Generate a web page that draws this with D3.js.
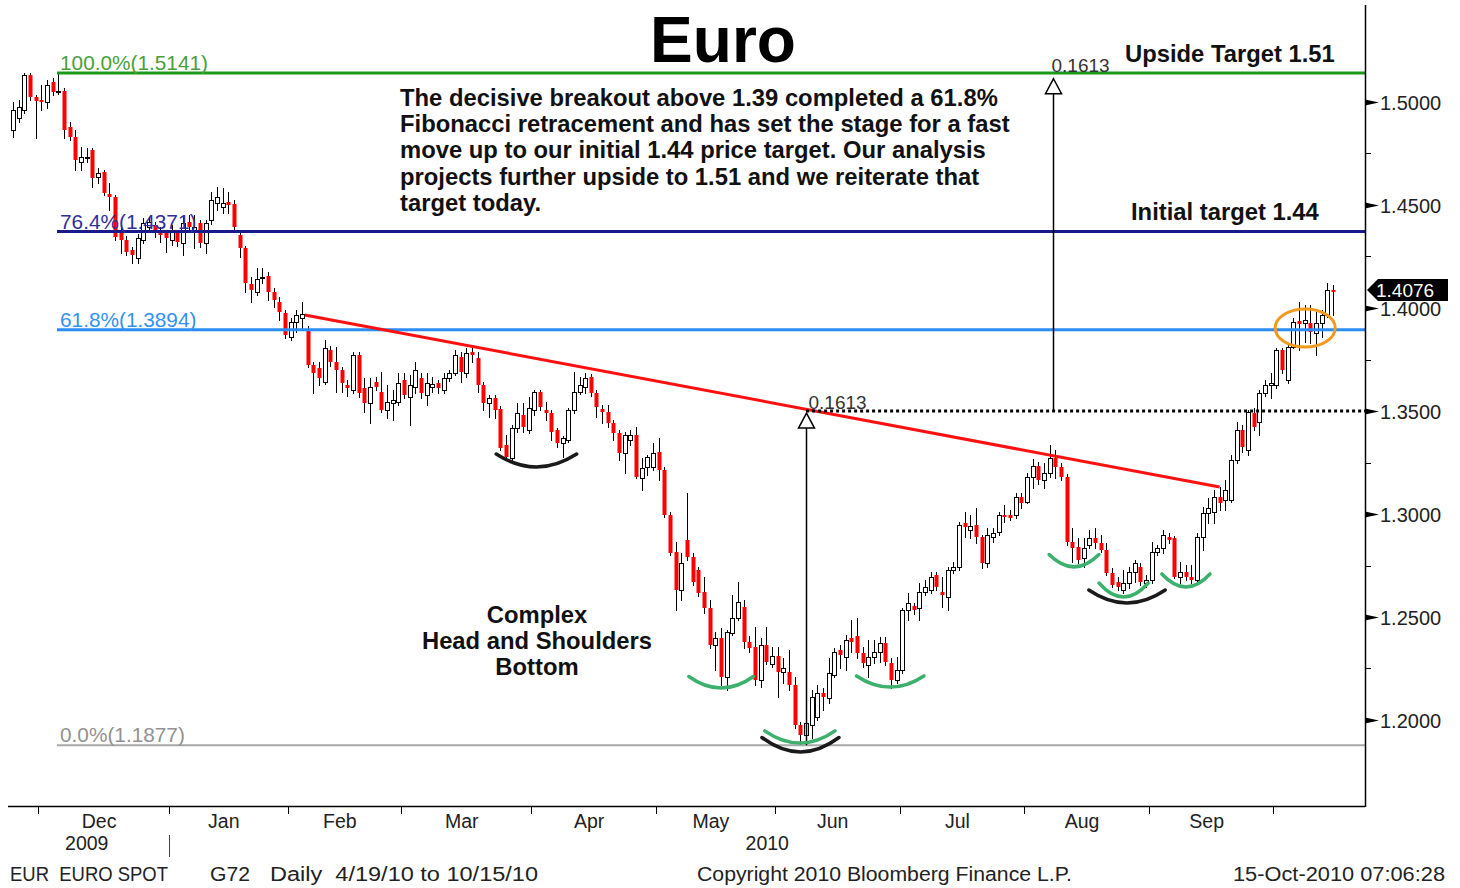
<!DOCTYPE html>
<html>
<head>
<meta charset="utf-8">
<script src="https://cdn.jsdelivr.net/npm/d3@7"></script>
<style>
  body { margin: 0; background: #fff; }
  svg { display: block; }
  text { font-family: "Liberation Sans", Arial, sans-serif; }
</style>
</head>
<body>
<svg id="chart" width="1460" height="888"></svg>
<script>
// EUR/USD daily, 24 Nov 2009 .. 15 Oct 2010
var opens = [1.4864,1.4922,1.4961,1.5131,1.5024,1.5010,1.5000,1.5097,1.5049,1.5053,
  1.4879,1.4830,1.4709,1.4733,1.4767,1.4636,1.4660,1.4553,1.4539,1.4379,
  1.4330,1.4282,1.4243,1.4330,1.4393,1.4403,1.4369,1.4364,1.4330,1.4364,
  1.4316,1.4417,1.4379,1.4413,1.4316,1.4427,1.4510,1.4490,1.4515,1.4505,
  1.4354,1.4291,1.4116,1.4078,1.4146,1.4155,1.4078,1.4029,1.3976,1.3859,
  1.3932,1.3951,1.3893,1.3723,1.3709,1.3641,1.3796,1.3738,1.3699,1.3626,
  1.3602,1.3772,1.3612,1.3539,1.3641,1.3592,1.3505,1.3539,1.3544,1.3650,
  1.3568,1.3617,1.3660,1.3578,1.3617,1.3636,1.3602,1.3660,1.3684,1.3762,
  1.3684,1.3786,1.3757,1.3626,1.3539,1.3563,1.3509,1.3335,1.3272,1.3417,
  1.3480,1.3408,1.3505,1.3592,1.3505,1.3490,1.3408,1.3345,1.3359,1.3505,
  1.3592,1.3617,1.3665,1.3587,1.3509,1.3495,1.3442,1.3393,1.3296,1.3359,
  1.3383,1.3175,1.3228,1.3228,1.3301,1.3214,1.2995,1.2815,1.2631,1.2874,
  1.2791,1.2728,1.2621,1.2544,1.2364,1.2398,1.2209,1.2422,1.2495,1.2549,
  1.2379,1.2354,1.2194,1.2364,1.2272,1.2311,1.2233,1.2233,1.2170,1.1976,
  1.1927,1.1976,1.2015,1.2131,1.2107,1.2218,1.2340,1.2306,1.2398,1.2408,
  1.2325,1.2267,1.2306,1.2330,1.2374,1.2277,1.2194,1.2243,1.2534,1.2553,
  1.2544,1.2621,1.2631,1.2704,1.2621,1.2597,1.2728,1.2743,1.2956,1.2922,
  1.2947,1.2888,1.2762,1.2888,1.2913,1.2995,1.2995,1.2995,1.3083,1.3058,
  1.3180,1.3233,1.3165,1.3199,1.3272,1.3228,1.3180,1.2864,1.2840,1.2786,
  1.2850,1.2884,1.2859,1.2825,1.2714,1.2670,1.2631,1.2665,1.2718,1.2743,
  1.2665,1.2680,1.2815,1.2835,1.2888,1.2884,1.2694,1.2718,1.2694,1.2680,
  1.2888,1.3005,1.3010,1.3083,1.3068,1.3068,1.3262,1.3408,1.3311,1.3490,
  1.3447,1.3587,1.3626,1.3626,1.3796,1.3650,1.3811,1.3937,1.3927,1.3927,
  1.3879,1.3927,1.3966,1.4087];
var highs = [1.5000,1.5010,1.5141,1.5141,1.5034,1.5083,1.5107,1.5117,1.5141,1.5068,
  1.4903,1.4864,1.4782,1.4777,1.4777,1.4680,1.4670,1.4607,1.4549,1.4398,
  1.4350,1.4296,1.4359,1.4437,1.4442,1.4417,1.4393,1.4379,1.4403,1.4379,
  1.4442,1.4451,1.4451,1.4427,1.4427,1.4563,1.4587,1.4582,1.4563,1.4524,
  1.4379,1.4301,1.4150,1.4194,1.4194,1.4175,1.4097,1.4053,1.3990,1.3951,
  1.3990,1.4029,1.3913,1.3738,1.3738,1.3845,1.3816,1.3811,1.3714,1.3650,
  1.3786,1.3786,1.3660,1.3660,1.3665,1.3689,1.3626,1.3602,1.3684,1.3684,
  1.3675,1.3738,1.3684,1.3684,1.3665,1.3650,1.3684,1.3699,1.3796,1.3786,
  1.3806,1.3820,1.3786,1.3641,1.3578,1.3578,1.3524,1.3383,1.3432,1.3539,
  1.3539,1.3568,1.3602,1.3602,1.3544,1.3505,1.3417,1.3379,1.3515,1.3689,
  1.3665,1.3684,1.3679,1.3602,1.3529,1.3529,1.3456,1.3408,1.3398,1.3408,
  1.3422,1.3272,1.3286,1.3345,1.3369,1.3228,1.3010,1.2864,1.2810,1.3102,
  1.2810,1.2743,1.2694,1.2583,1.2427,1.2447,1.2437,1.2607,1.2670,1.2583,
  1.2408,1.2451,1.2398,1.2451,1.2354,1.2354,1.2301,1.2340,1.2209,1.1990,
  1.2073,1.2146,1.2170,1.2155,1.2301,1.2350,1.2364,1.2413,1.2485,1.2495,
  1.2354,1.2388,1.2388,1.2403,1.2403,1.2301,1.2306,1.2544,1.2617,1.2568,
  1.2665,1.2680,1.2718,1.2718,1.2694,1.2743,1.2767,1.2961,1.3010,1.2995,
  1.3029,1.2898,1.2932,1.2932,1.3010,1.3044,1.3020,1.3102,1.3102,1.3199,
  1.3267,1.3252,1.3248,1.3335,1.3311,1.3248,1.3194,1.2932,1.2883,1.2883,
  1.2922,1.2932,1.2898,1.2859,1.2738,1.2694,1.2728,1.2743,1.2777,1.2762,
  1.2704,1.2864,1.2850,1.2922,1.2908,1.2893,1.2767,1.2752,1.2752,1.2908,
  1.3034,1.3078,1.3117,1.3131,1.3165,1.3286,1.3447,1.3432,1.3505,1.3515,
  1.3602,1.3650,1.3684,1.3806,1.3806,1.3820,1.3951,1.4029,1.4015,1.4015,
  1.3980,1.3990,1.4121,1.4112];
var lows = [1.4830,1.4903,1.4947,1.5010,1.4825,1.4961,1.4971,1.5034,1.5039,1.4825,
  1.4816,1.4670,1.4670,1.4709,1.4587,1.4607,1.4549,1.4476,1.4330,1.4267,
  1.4257,1.4218,1.4218,1.4316,1.4369,1.4345,1.4320,1.4272,1.4306,1.4301,
  1.4257,1.4369,1.4291,1.4296,1.4267,1.4408,1.4476,1.4461,1.4461,1.4379,
  1.4248,1.4078,1.4029,1.4063,1.4121,1.4039,1.4005,1.3942,1.3854,1.3845,
  1.3883,1.3903,1.3714,1.3587,1.3626,1.3631,1.3718,1.3592,1.3592,1.3573,
  1.3587,1.3568,1.3495,1.3442,1.3602,1.3495,1.3466,1.3456,1.3529,1.3563,
  1.3432,1.3587,1.3563,1.3529,1.3592,1.3587,1.3587,1.3646,1.3675,1.3641,
  1.3665,1.3738,1.3592,1.3505,1.3471,1.3466,1.3311,1.3267,1.3262,1.3398,
  1.3398,1.3393,1.3480,1.3505,1.3456,1.3359,1.3325,1.3277,1.3350,1.3490,
  1.3582,1.3587,1.3573,1.3471,1.3442,1.3422,1.3359,1.3262,1.3199,1.3335,
  1.3175,1.3117,1.3189,1.3214,1.3165,1.2985,1.2801,1.2534,1.2583,1.2777,
  1.2655,1.2602,1.2519,1.2350,1.2243,1.2170,1.2146,1.2413,1.2485,1.2350,
  1.2330,1.2170,1.2160,1.2272,1.2257,1.2112,1.2180,1.2146,1.1961,1.1877,
  1.1888,1.1913,1.2000,1.2049,1.2083,1.2209,1.2252,1.2243,1.2330,1.2301,
  1.2257,1.2209,1.2277,1.2282,1.2267,1.2155,1.2180,1.2228,1.2485,1.2515,
  1.2485,1.2607,1.2617,1.2631,1.2549,1.2534,1.2714,1.2728,1.2888,1.2883,
  1.2859,1.2738,1.2743,1.2864,1.2898,1.2961,1.2971,1.2981,1.3029,1.3053,
  1.3126,1.3146,1.3126,1.3180,1.3175,1.3165,1.2850,1.2767,1.2762,1.2743,
  1.2835,1.2835,1.2816,1.2704,1.2646,1.2631,1.2617,1.2641,1.2670,1.2655,
  1.2646,1.2665,1.2801,1.2811,1.2859,1.2689,1.2665,1.2680,1.2665,1.2665,
  1.2825,1.2956,1.2956,1.3020,1.3020,1.3058,1.3248,1.3301,1.3286,1.3408,
  1.3383,1.3573,1.3563,1.3612,1.3684,1.3636,1.3806,1.3796,1.3835,1.3830,
  1.3772,1.3859,1.3956,1.3966];
var closes = [1.4961,1.4976,1.5131,1.5024,1.5005,1.5000,1.5083,1.5049,1.5053,1.4864,
  1.4830,1.4718,1.4733,1.4735,1.4631,1.4655,1.4558,1.4539,1.4345,1.4330,
  1.4272,1.4257,1.4340,1.4413,1.4417,1.4364,1.4354,1.4340,1.4369,1.4320,
  1.4413,1.4393,1.4393,1.4316,1.4413,1.4524,1.4539,1.4510,1.4500,1.4393,
  1.4291,1.4121,1.4087,1.4141,1.4150,1.4078,1.4039,1.3981,1.3869,1.3932,
  1.3966,1.3971,1.3723,1.3684,1.3660,1.3806,1.3738,1.3699,1.3636,1.3612,
  1.3772,1.3587,1.3539,1.3617,1.3617,1.3505,1.3544,1.3553,1.3636,1.3578,
  1.3626,1.3699,1.3587,1.3636,1.3631,1.3612,1.3660,1.3684,1.3772,1.3689,
  1.3782,1.3772,1.3626,1.3539,1.3563,1.3505,1.3320,1.3277,1.3417,1.3490,
  1.3422,1.3515,1.3592,1.3520,1.3490,1.3398,1.3345,1.3369,1.3505,1.3592,
  1.3626,1.3660,1.3587,1.3520,1.3495,1.3442,1.3393,1.3296,1.3383,1.3383,
  1.3180,1.3223,1.3277,1.3296,1.3214,1.2995,1.2811,1.2631,1.2762,1.2791,
  1.2670,1.2617,1.2544,1.2364,1.2398,1.2209,1.2427,1.2495,1.2573,1.2379,
  1.2350,1.2194,1.2364,1.2282,1.2311,1.2233,1.2252,1.2170,1.1976,1.1927,
  1.1985,1.2112,1.2131,1.2112,1.2228,1.2330,1.2316,1.2388,1.2379,1.2325,
  1.2277,1.2306,1.2330,1.2374,1.2282,1.2194,1.2243,1.2534,1.2568,1.2534,
  1.2621,1.2646,1.2694,1.2646,1.2607,1.2728,1.2743,1.2947,1.2937,1.2942,
  1.2888,1.2762,1.2898,1.2908,1.2995,1.2985,1.2981,1.3083,1.3053,1.3180,
  1.3233,1.3165,1.3199,1.3272,1.3228,1.3180,1.2864,1.2835,1.2777,1.2835,
  1.2884,1.2859,1.2825,1.2714,1.2655,1.2646,1.2665,1.2718,1.2762,1.2670,
  1.2680,1.2815,1.2835,1.2898,1.2874,1.2694,1.2718,1.2694,1.2680,1.2888,
  1.3005,1.3029,1.3083,1.3053,1.3117,1.3262,1.3408,1.3325,1.3495,1.3422,
  1.3587,1.3626,1.3636,1.3796,1.3699,1.3811,1.3932,1.3922,1.3942,1.3883,
  1.3927,1.3966,1.4087,1.4076];

// fibonacci retracement levels
var fibLevels = [1.5141, 1.4371, 1.3894, 1.1877];
var fibNames = ["100.0%", "76.4%", "61.8%", "0.0%"];

var priceTicks = [1.20, 1.25, 1.30, 1.35, 1.40, 1.45, 1.50];
var minorTicks = [1.225, 1.275, 1.325, 1.375, 1.425, 1.475];

// neckline: [day index, price]
var neckline = [[51.5, 1.3966], [213, 1.3131]];

// measured move
var moveSize = 0.1613;
var headLow = 1.1877;
var breakLevel = 1.3500;
var moveDays = [140, 183.6];

// smile marks: [from day, to day, price at ends, price at bottom, kind]
var smiles = [
  [85.3, 99.5, 1.3291, 1.3228, "k"],
  [119.3, 130.7, 1.2211, 1.2155, "g"],
  [132.2, 145.8, 1.1915, 1.1845, "k"],
  [132.7, 145.1, 1.1947, 1.1888, "g"],
  [148.9, 160.8, 1.2214, 1.2160, "g"],
  [182.9, 191.7, 1.2803, 1.2743, "g"],
  [189.9, 203.4, 1.2631, 1.2568, "k"],
  [191.7, 200.4, 1.2665, 1.2597, "g"],
  [202.8, 211.3, 1.2709, 1.2646, "g"]
];
var circled = [228.1, 1.3903];

var noteLines = [
  "The decisive breakout above 1.39 completed a 61.8%",
  "Fibonacci retracement and has set the stage for a fast",
  "move up to our initial 1.44 price target. Our analysis",
  "projects further upside to 1.51 and we reiterate that",
  "target today."
];
var patternLines = ["Complex", "Head and Shoulders", "Bottom"];

var svg = d3.select("#chart");
var n = closes.length;
var plotLeft = 8, plotRight = 1365, plotTop = 5, plotBottom = 806;

var days = d3.timeDay.range(new Date(2009, 10, 24), new Date(2010, 9, 16))
  .filter(d => d.getDay() % 6 !== 0);

var x = d3.scaleLinear().domain([0, n - 1]).range([13, 13 + (n - 1) * 5.665]);
var y = d3.scaleLinear().domain([1.2, 1.5]).range([720, 102]);

// ---- candles ----
var gC = svg.append("g");
d3.range(n).forEach(i => {
	let cx = Math.round(x(i));
	let o = opens[i], c = closes[i];
	gC.append("line")
		.attr("x1", cx + 0.5).attr("x2", cx + 0.5)
		.attr("y1", Math.round(y(highs[i]))).attr("y2", Math.round(y(lows[i])) + 1)
		.attr("stroke", "#000").attr("stroke-width", 1);
	let top = Math.round(y(Math.max(o, c))), bot = Math.round(y(Math.min(o, c)));
	if (c >= o) {
		gC.append("rect")
			.attr("x", cx - 1.5).attr("y", top + 0.5)
			.attr("width", 4).attr("height", Math.max(bot - top, 1))
			.attr("fill", "#fff").attr("stroke", "#000").attr("stroke-width", 1);
	} else {
		gC.append("rect")
			.attr("x", cx - 1.5).attr("y", top)
			.attr("width", 4).attr("height", Math.max(bot - top, 2))
			.attr("fill", "#ff0000");
	}
});

// ---- fibonacci lines ----
var fibColor = ["#1c9a1c", "#1a1a8c", "#2a8cf4", "#a8a8a8"];
var fibText = ["#4aa03a", "#30309a", "#3392f0", "#929292"];
fibLevels.forEach((lv, k) => {
	svg.append("line")
		.attr("x1", 57).attr("x2", plotRight)
		.attr("y1", y(lv)).attr("y2", y(lv))
		.attr("stroke", fibColor[k]).attr("stroke-width", k == 3 ? 2 : 3);
	svg.append("text")
		.attr("x", 60).attr("y", y(lv) - 3)
		.attr("font-size", 20.8).attr("fill", fibText[k])
		.text(fibNames[k] + "(" + lv.toFixed(4) + ")");
});

// ---- neckline ----
svg.append("line")
	.attr("x1", x(neckline[0][0])).attr("y1", y(neckline[0][1]))
	.attr("x2", x(neckline[1][0])).attr("y2", y(neckline[1][1]))
	.attr("stroke", "#ff1010").attr("stroke-width", 3);

// ---- measured move ----
svg.append("line")
	.attr("x1", x(moveDays[0])).attr("x2", plotRight)
	.attr("y1", y(breakLevel)).attr("y2", y(breakLevel))
	.attr("stroke", "#000").attr("stroke-width", 3)
	.attr("stroke-dasharray", "3,3");

function moveArrow(day, from, to, dx, dy) {
	let ax = Math.round(x(day)) + 0.5;
	let tip = y(to);
	svg.append("line")
		.attr("x1", ax).attr("x2", ax)
		.attr("y1", y(from)).attr("y2", tip + 15)
		.attr("stroke", "#000").attr("stroke-width", 1.5);
	svg.append("path")
		.attr("d", `M${ax},${tip} L${ax - 8},${tip + 15} L${ax + 8},${tip + 15} Z`)
		.attr("fill", "#fff").attr("stroke", "#000").attr("stroke-width", 1.5);
	svg.append("text")
		.attr("x", ax + dx).attr("y", tip + dy)
		.attr("font-size", 19).attr("fill", "#333")
		.text(moveSize.toFixed(4));
}
moveArrow(moveDays[0], headLow, headLow + moveSize, 2, -4);
moveArrow(moveDays[1], breakLevel, breakLevel + moveSize, -2, -7);

// ---- smiles + circle ----
var smileColor = { k: "#1a1a1a", g: "#3cb06c" };
smiles.forEach(s => {
	let x1 = x(s[0]), x2 = x(s[1]), ye = y(s[2]), yb = y(s[3]);
	let cy = 2 * yb - ye;
	svg.append("path")
		.attr("d", `M${x1},${ye} Q${(x1 + x2) / 2},${cy} ${x2},${ye}`)
		.attr("fill", "none").attr("stroke", smileColor[s[4]])
		.attr("stroke-width", 3.5).attr("stroke-linecap", "round");
});
svg.append("ellipse")
	.attr("cx", x(circled[0])).attr("cy", y(circled[1]))
	.attr("rx", 30).attr("ry", 19)
	.attr("fill", "none").attr("stroke", "#f39a1e").attr("stroke-width", 3);

// ---- axes ----
svg.append("line")
	.attr("x1", plotLeft).attr("x2", plotRight)
	.attr("y1", plotBottom + 0.5).attr("y2", plotBottom + 0.5)
	.attr("stroke", "#000").attr("stroke-width", 1.5);
svg.append("line")
	.attr("x1", plotRight + 0.5).attr("x2", plotRight + 0.5)
	.attr("y1", plotTop).attr("y2", plotBottom + 1)
	.attr("stroke", "#000").attr("stroke-width", 1.5);

priceTicks.forEach(p => {
	let py = Math.round(y(p)) + 0.5;
	svg.append("path")
		.attr("d", `M${plotRight},${py - 3} L${plotRight + 14},${py} L${plotRight},${py + 3} Z`)
		.attr("fill", "#000");
	svg.append("text")
		.attr("x", 1380).attr("y", py).attr("dy", "0.36em")
		.attr("font-size", 20).attr("fill", "#222")
		.text(p.toFixed(4));
});
minorTicks.forEach(p => {
	let py = Math.round(y(p)) + 0.5;
	svg.append("line")
		.attr("x1", plotRight).attr("x2", plotRight + 6)
		.attr("y1", py).attr("y2", py)
		.attr("stroke", "#000").attr("stroke-width", 1);
});

// last price flag
var last = closes[n - 1];
var ly = Math.round(y(last)) - 2;
svg.append("path")
	.attr("d", `M${plotRight + 2},${ly} L${plotRight + 13},${ly - 11} L1448,${ly - 11} L1448,${ly + 11} L${plotRight + 13},${ly + 11} Z`)
	.attr("fill", "#000");
svg.append("text")
	.attr("x", 1376).attr("y", ly).attr("dy", "0.35em")
	.attr("font-size", 19).attr("fill", "#fff")
	.text(last.toFixed(4));

// month ticks from trading calendar
var starts = [];
for (let i = 1; i < n; i++) {
	if (days[i].getMonth() != days[i - 1].getMonth()) starts.push(i);
}
var fmtMonth = d3.timeFormat("%b");
starts.forEach((s, k) => {
	let tx = Math.round(x(s - 0.5)) + 0.5;
	svg.append("line")
		.attr("x1", tx).attr("x2", tx)
		.attr("y1", plotBottom).attr("y2", plotBottom + 8)
		.attr("stroke", "#000").attr("stroke-width", 1);
	if (k < starts.length - 1) {
		let mx = (x(s - 0.5) + x(starts[k + 1] - 0.5)) / 2 - 4.5;
		svg.append("text")
			.attr("x", mx).attr("y", 828)
			.attr("text-anchor", "middle")
			.attr("font-size", 19.5).attr("fill", "#222")
			.text(fmtMonth(days[s]));
	}
});
var janX = Math.round(x(starts[1] - 0.5)) + 0.5;
svg.append("line")
	.attr("x1", janX).attr("x2", janX).attr("y1", 835).attr("y2", 857)
	.attr("stroke", "#444").attr("stroke-width", 1);
svg.append("text").attr("x", (plotLeft + janX) / 2 - 2).attr("y", 850)
	.attr("text-anchor", "middle").attr("font-size", 19.5).attr("fill", "#222")
	.text("2009");
svg.append("text").attr("x", (janX + plotRight) / 2).attr("y", 850)
	.attr("text-anchor", "middle").attr("font-size", 19.5).attr("fill", "#222")
	.text("2010");

// ---- texts ----
svg.append("text")
	.attr("x", 723).attr("y", 62).attr("text-anchor", "middle")
	.attr("font-size", 64).attr("font-weight", "bold").attr("fill", "#000")
	.text("Euro");

noteLines.forEach((t, k) => {
	svg.append("text")
		.attr("x", 400).attr("y", 106 + k * 26.2)
		.attr("font-size", 23.8).attr("font-weight", "bold").attr("fill", "#111")
		.text(t);
});
svg.append("text").attr("x", 1125).attr("y", 62)
	.attr("font-size", 23.8).attr("font-weight", "bold").attr("fill", "#111")
	.text("Upside Target 1.51");
svg.append("text").attr("x", 1131).attr("y", 220)
	.attr("font-size", 23.8).attr("font-weight", "bold").attr("fill", "#111")
	.text("Initial target 1.44");
patternLines.forEach((t, k) => {
	svg.append("text")
		.attr("x", 537).attr("y", 623 + k * 26)
		.attr("text-anchor", "middle")
		.attr("font-size", 23.8).attr("font-weight", "bold").attr("fill", "#111")
		.text(t);
});

// footer, fitted to the widths in the original
var foot = [[10, "EUR  EURO SPOT", 158], [210, "G72", 40], [270, "Daily  4/19/10 to 10/15/10", 268],
	[697, "Copyright 2010 Bloomberg Finance L.P.", 375], [1233, "15-Oct-2010 07:06:28", 212]];
foot.forEach(f => {
	svg.append("text").attr("x", f[0]).attr("y", 881)
		.attr("font-size", 19.5).attr("fill", "#222")
		.attr("textLength", f[2]).attr("lengthAdjust", "spacingAndGlyphs")
		.style("white-space", "pre")
		.text(f[1]);
});
</script>
</body>
</html>
